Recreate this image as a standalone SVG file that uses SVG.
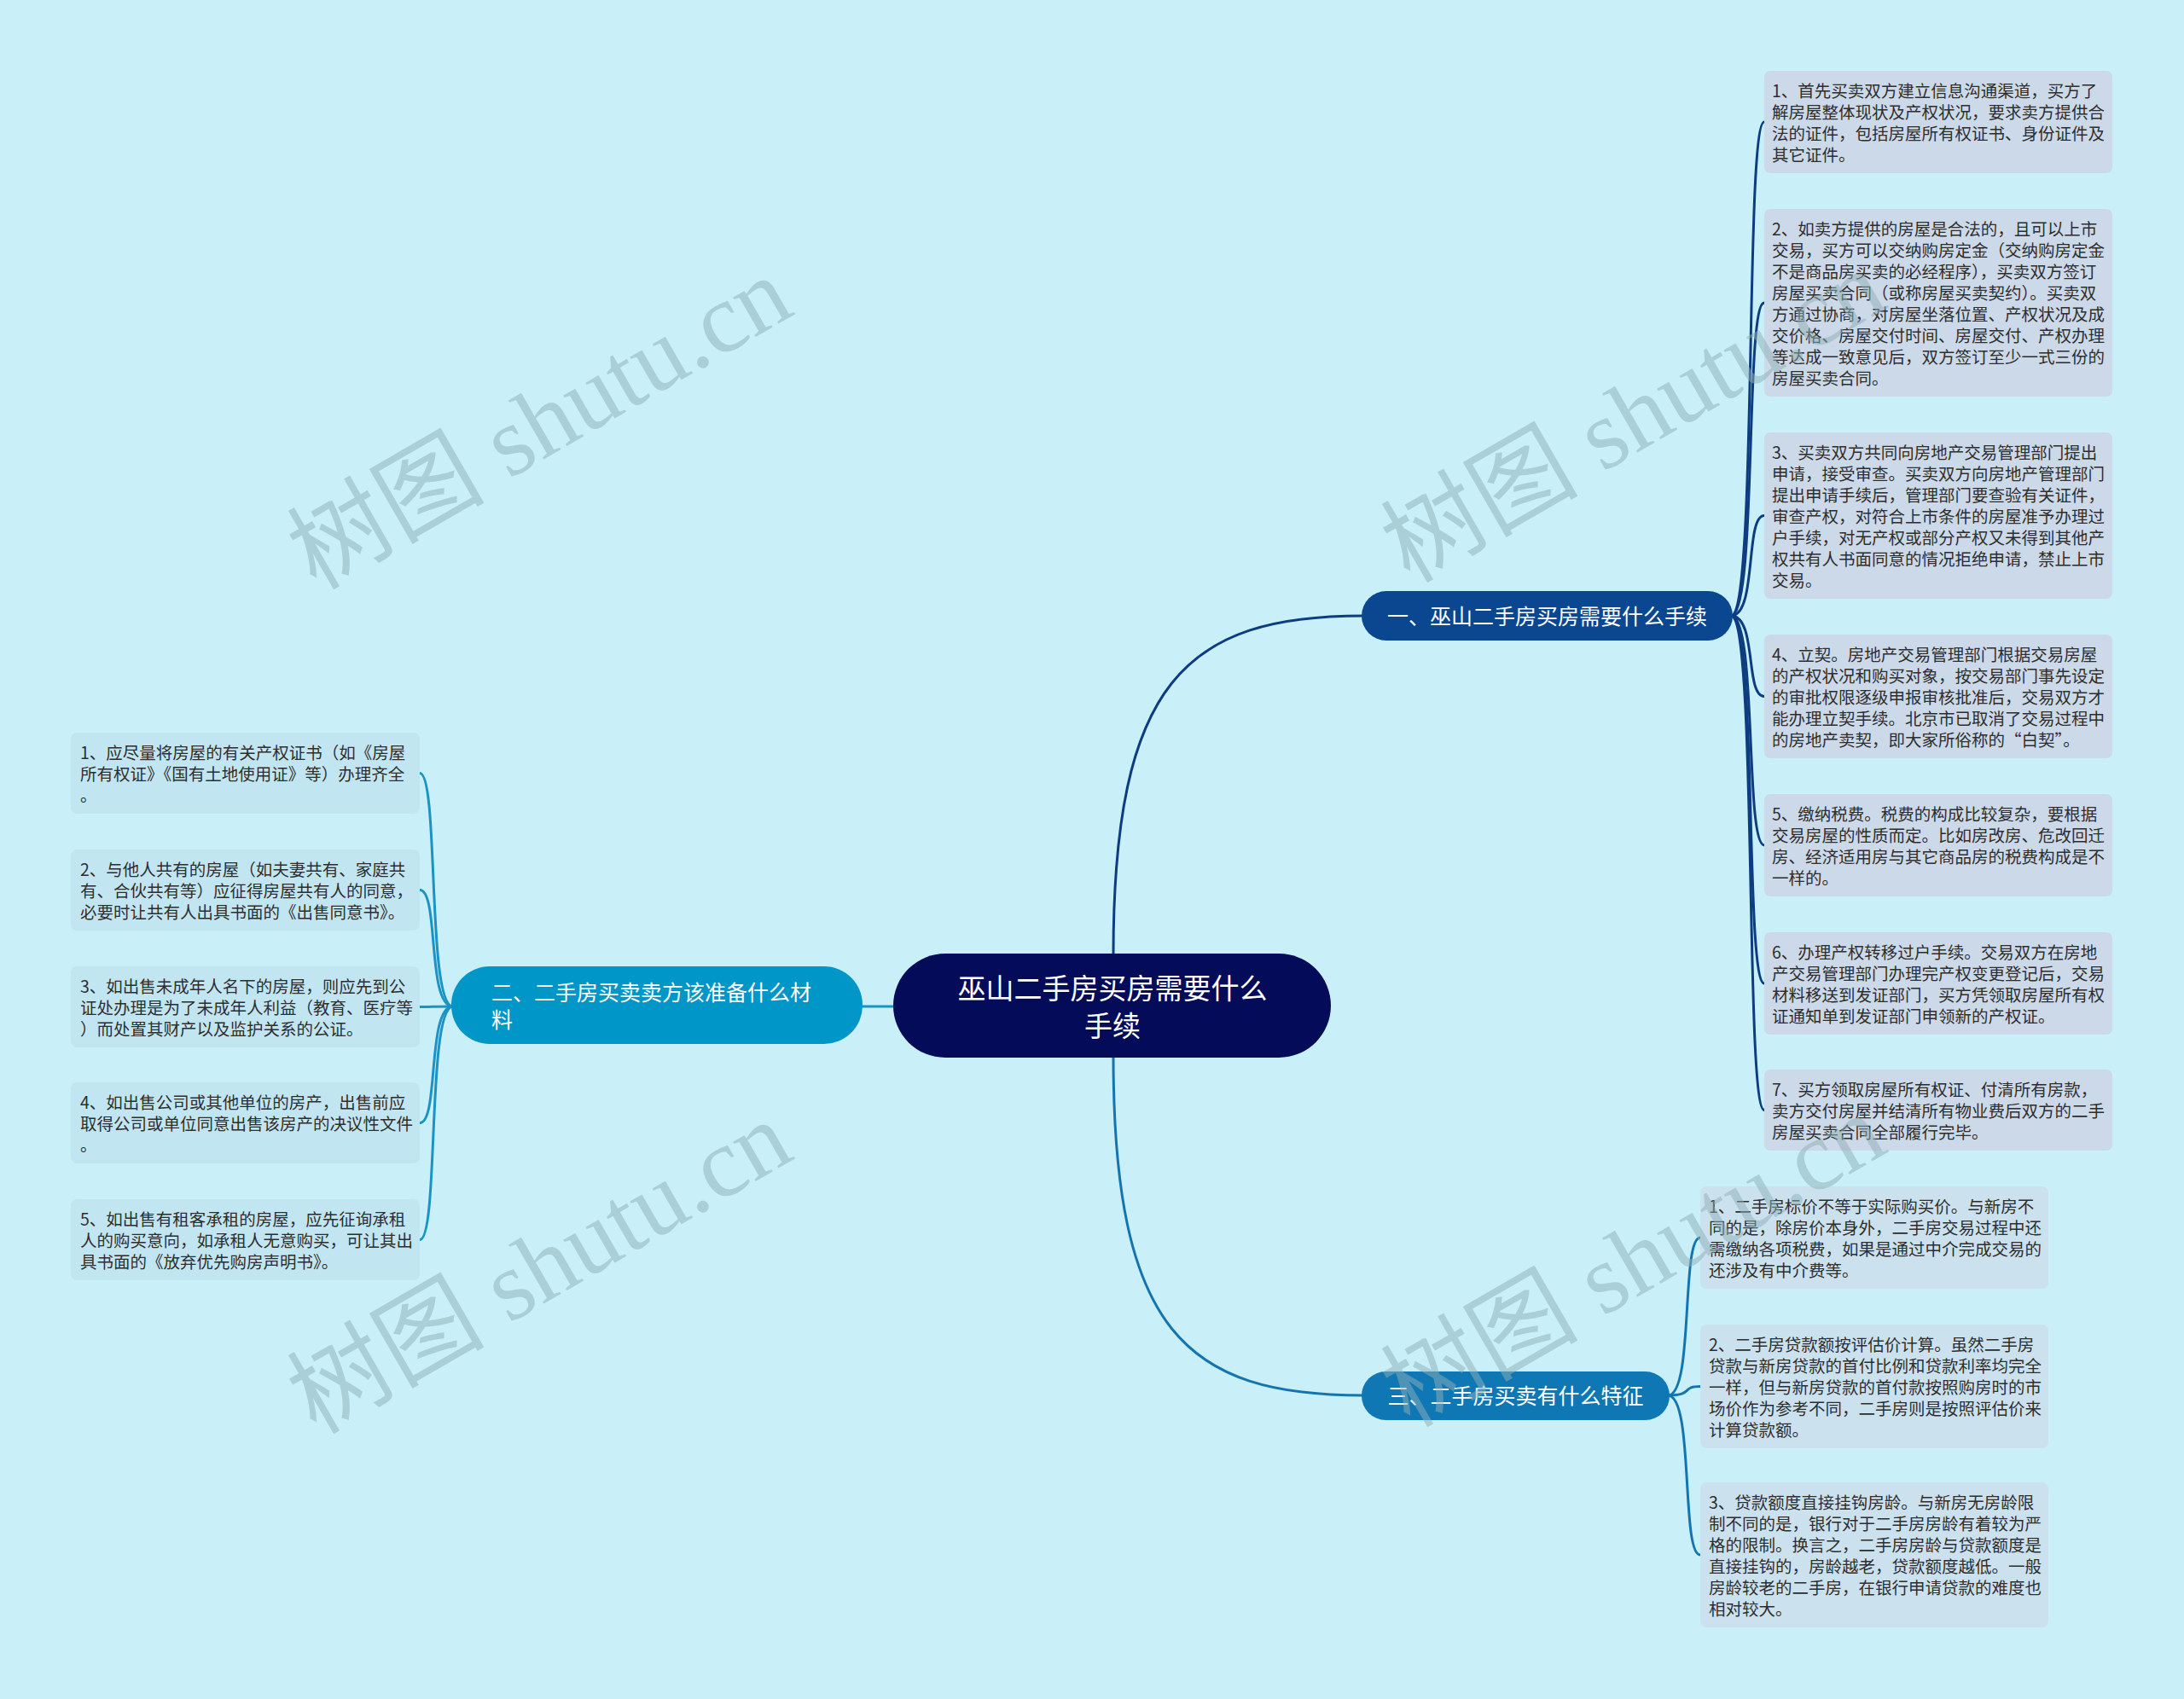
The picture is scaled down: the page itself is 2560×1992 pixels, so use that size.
<svg xmlns="http://www.w3.org/2000/svg" width="2560" height="1992" viewBox="0 0 2560 1992">
<style>
.bg{fill:#c9f0f8}
.t{font-family:"Noto Sans CJK SC","Noto Sans",sans-serif;font-size:19.5px;fill:#2e2e2e}
.bt{font-family:"Noto Sans CJK SC","Noto Sans",sans-serif;font-size:25px;fill:#ffffff}
.ct{font-family:"Noto Sans CJK SC","Noto Sans",sans-serif;font-size:33px;fill:#ffffff}
.b1c{fill:#ccd9e8}
.b2c{fill:#c2e6f1}
.b3c{fill:#cbe2ee}
.l1{fill:none;stroke:#0d3d80;stroke-width:3}
.l2{fill:none;stroke:#1b93c4;stroke-width:3}
.l3{fill:none;stroke:#1474b0;stroke-width:3}
.wm{font-family:"Liberation Serif","Noto Sans CJK SC",serif;font-size:116px;fill:#8fb0b8;opacity:0.5}
</style>
<rect class="bg" x="0" y="0" width="2560" height="1992"/>

<g id="connectors">
  <path class="l1" d="M1305,1120 C1305,800 1390,722 1598,722"/>
  <path class="l2" d="M1049,1180 L1009,1180"/>
  <path class="l3" d="M1305,1238 C1305,1560 1390,1636 1598,1636"/>
  <path class="l1" d="M2029,722 C2060,722 2045,143 2068,143"/>
  <path class="l1" d="M2029,722 C2060,722 2045,355 2068,355"/>
  <path class="l1" d="M2029,722 C2060,722 2045,604.5 2068,604.5"/>
  <path class="l1" d="M2029,722 C2060,722 2045,816.5 2068,816.5"/>
  <path class="l1" d="M2029,722 C2060,722 2045,991 2068,991"/>
  <path class="l1" d="M2029,722 C2060,722 2045,1153 2068,1153"/>
  <path class="l1" d="M2029,722 C2060,722 2045,1301.5 2068,1301.5"/>
  <path class="l3" d="M1955,1636 C1986,1636 1970,1451 1993,1451"/>
  <path class="l3" d="M1955,1636 C1986,1636 1970,1625.5 1993,1625.5"/>
  <path class="l3" d="M1955,1636 C1986,1636 1970,1823 1993,1823"/>
  <path class="l2" d="M531,1180 C500,1180 515,906.5 492,906.5"/>
  <path class="l2" d="M531,1180 C500,1180 515,1043.5 492,1043.5"/>
  <path class="l2" d="M531,1180 C500,1180 515,1180.5 492,1180.5"/>
  <path class="l2" d="M531,1180 C500,1180 515,1316.5 492,1316.5"/>
  <path class="l2" d="M531,1180 C500,1180 515,1453.5 492,1453.5"/>
</g>

<g id="center">
  <rect x="1047" y="1118" width="513" height="122" rx="61" fill="#040c5a"/>
  <text class="ct" text-anchor="middle"><tspan x="1304" y="1171">巫山二手房买房需要什么</tspan><tspan x="1304" y="1215">手续</tspan></text>
</g>

<g id="branch1">
  <rect x="1596" y="693" width="435" height="58" rx="29" fill="#0b4690"/>
  <text class="bt" x="1813.5" y="732" text-anchor="middle">一、巫山二手房买房需要什么手续</text>
</g>
<g id="branch2">
  <rect x="529" y="1133" width="482" height="91" rx="45" fill="#0196c8"/>
  <text class="bt"><tspan x="576" y="1173">二、二手房买卖卖方该准备什么材</tspan><tspan x="576" y="1205">料</tspan></text>
</g>
<g id="branch3">
  <rect x="1596" y="1608" width="361" height="57" rx="28.5" fill="#0f77b4"/>
  <text class="bt" x="1776.5" y="1646" text-anchor="middle">三、二手房买卖有什么特征</text>
</g>

<g id="b1n1">
  <rect class="b1c" x="2068" y="83" width="408" height="120" rx="7"/>
  <text class="t"><tspan x="2077" y="114">1、首先买卖双方建立信息沟通渠道，买方了</tspan><tspan x="2077" y="139">解房屋整体现状及产权状况，要求卖方提供合</tspan><tspan x="2077" y="164">法的证件，包括房屋所有权证书、身份证件及</tspan><tspan x="2077" y="189">其它证件。</tspan></text>
</g>
<g id="b1n2">
  <rect class="b1c" x="2068" y="245" width="408" height="220" rx="7"/>
  <text class="t"><tspan x="2077" y="276">2、如卖方提供的房屋是合法的，且可以上市</tspan><tspan x="2077" y="301">交易，买方可以交纳购房定金（交纳购房定金</tspan><tspan x="2077" y="326">不是商品房买卖的必经程序），买卖双方签订</tspan><tspan x="2077" y="351">房屋买卖合同（或称房屋买卖契约）。买卖双</tspan><tspan x="2077" y="376">方通过协商，对房屋坐落位置、产权状况及成</tspan><tspan x="2077" y="401">交价格、房屋交付时间、房屋交付、产权办理</tspan><tspan x="2077" y="426">等达成一致意见后，双方签订至少一式三份的</tspan><tspan x="2077" y="451">房屋买卖合同。</tspan></text>
</g>
<g id="b1n3">
  <rect class="b1c" x="2068" y="507" width="408" height="195" rx="7"/>
  <text class="t"><tspan x="2077" y="538">3、买卖双方共同向房地产交易管理部门提出</tspan><tspan x="2077" y="563">申请，接受审查。买卖双方向房地产管理部门</tspan><tspan x="2077" y="588">提出申请手续后，管理部门要查验有关证件，</tspan><tspan x="2077" y="613">审查产权，对符合上市条件的房屋准予办理过</tspan><tspan x="2077" y="638">户手续，对无产权或部分产权又未得到其他产</tspan><tspan x="2077" y="663">权共有人书面同意的情况拒绝申请，禁止上市</tspan><tspan x="2077" y="688">交易。</tspan></text>
</g>
<g id="b1n4">
  <rect class="b1c" x="2068" y="744" width="408" height="145" rx="7"/>
  <text class="t"><tspan x="2077" y="775">4、立契。房地产交易管理部门根据交易房屋</tspan><tspan x="2077" y="800">的产权状况和购买对象，按交易部门事先设定</tspan><tspan x="2077" y="825">的审批权限逐级申报审核批准后，交易双方才</tspan><tspan x="2077" y="850">能办理立契手续。北京市已取消了交易过程中</tspan><tspan x="2077" y="875">的房地产卖契，即大家所俗称的“白契”。</tspan></text>
</g>
<g id="b1n5">
  <rect class="b1c" x="2068" y="931" width="408" height="120" rx="7"/>
  <text class="t"><tspan x="2077" y="962">5、缴纳税费。税费的构成比较复杂，要根据</tspan><tspan x="2077" y="987">交易房屋的性质而定。比如房改房、危改回迁</tspan><tspan x="2077" y="1012">房、经济适用房与其它商品房的税费构成是不</tspan><tspan x="2077" y="1037">一样的。</tspan></text>
</g>
<g id="b1n6">
  <rect class="b1c" x="2068" y="1093" width="408" height="120" rx="7"/>
  <text class="t"><tspan x="2077" y="1124">6、办理产权转移过户手续。交易双方在房地</tspan><tspan x="2077" y="1149">产交易管理部门办理完产权变更登记后，交易</tspan><tspan x="2077" y="1174">材料移送到发证部门，买方凭领取房屋所有权</tspan><tspan x="2077" y="1199">证通知单到发证部门申领新的产权证。</tspan></text>
</g>
<g id="b1n7">
  <rect class="b1c" x="2068" y="1254" width="408" height="95" rx="7"/>
  <text class="t"><tspan x="2077" y="1285">7、买方领取房屋所有权证、付清所有房款，</tspan><tspan x="2077" y="1310">卖方交付房屋并结清所有物业费后双方的二手</tspan><tspan x="2077" y="1335">房屋买卖合同全部履行完毕。</tspan></text>
</g>

<g id="b3n1">
  <rect class="b3c" x="1993" y="1391" width="408" height="120" rx="7"/>
  <text class="t"><tspan x="2003" y="1422">1、二手房标价不等于实际购买价。与新房不</tspan><tspan x="2003" y="1447">同的是，除房价本身外，二手房交易过程中还</tspan><tspan x="2003" y="1472">需缴纳各项税费，如果是通过中介完成交易的</tspan><tspan x="2003" y="1497">还涉及有中介费等。</tspan></text>
</g>
<g id="b3n2">
  <rect class="b3c" x="1993" y="1553" width="408" height="145" rx="7"/>
  <text class="t"><tspan x="2003" y="1584">2、二手房贷款额按评估价计算。虽然二手房</tspan><tspan x="2003" y="1609">贷款与新房贷款的首付比例和贷款利率均完全</tspan><tspan x="2003" y="1634">一样，但与新房贷款的首付款按照购房时的市</tspan><tspan x="2003" y="1659">场价作为参考不同，二手房则是按照评估价来</tspan><tspan x="2003" y="1684">计算贷款额。</tspan></text>
</g>
<g id="b3n3">
  <rect class="b3c" x="1993" y="1738" width="408" height="170" rx="7"/>
  <text class="t"><tspan x="2003" y="1769">3、贷款额度直接挂钩房龄。与新房无房龄限</tspan><tspan x="2003" y="1794">制不同的是，银行对于二手房房龄有着较为严</tspan><tspan x="2003" y="1819">格的限制。换言之，二手房房龄与贷款额度是</tspan><tspan x="2003" y="1844">直接挂钩的，房龄越老，贷款额度越低。一般</tspan><tspan x="2003" y="1869">房龄较老的二手房，在银行申请贷款的难度也</tspan><tspan x="2003" y="1894">相对较大。</tspan></text>
</g>

<g id="b2n1">
  <rect class="b2c" x="83" y="859" width="409" height="95" rx="7"/>
  <text class="t"><tspan x="94" y="890">1、应尽量将房屋的有关产权证书（如《房屋</tspan><tspan x="94" y="915">所有权证》《国有土地使用证》等）办理齐全</tspan><tspan x="94" y="940">。</tspan></text>
</g>
<g id="b2n2">
  <rect class="b2c" x="83" y="996" width="409" height="95" rx="7"/>
  <text class="t"><tspan x="94" y="1027">2、与他人共有的房屋（如夫妻共有、家庭共</tspan><tspan x="94" y="1052">有、合伙共有等）应征得房屋共有人的同意，</tspan><tspan x="94" y="1077">必要时让共有人出具书面的《出售同意书》。</tspan></text>
</g>
<g id="b2n3">
  <rect class="b2c" x="83" y="1133" width="409" height="95" rx="7"/>
  <text class="t"><tspan x="94" y="1164">3、如出售未成年人名下的房屋，则应先到公</tspan><tspan x="94" y="1189">证处办理是为了未成年人利益（教育、医疗等</tspan><tspan x="94" y="1214">）而处置其财产以及监护关系的公证。</tspan></text>
</g>
<g id="b2n4">
  <rect class="b2c" x="83" y="1269" width="409" height="95" rx="7"/>
  <text class="t"><tspan x="94" y="1300">4、如出售公司或其他单位的房产，出售前应</tspan><tspan x="94" y="1325">取得公司或单位同意出售该房产的决议性文件</tspan><tspan x="94" y="1350">。</tspan></text>
</g>
<g id="b2n5">
  <rect class="b2c" x="83" y="1406" width="409" height="95" rx="7"/>
  <text class="t"><tspan x="94" y="1437">5、如出售有租客承租的房屋，应先征询承租</tspan><tspan x="94" y="1462">人的购买意向，如承租人无意购买，可让其出</tspan><tspan x="94" y="1487">具书面的《放弃优先购房声明书》。</tspan></text>
</g>

<g id="watermarks">
  <text class="wm" x="652" y="530" text-anchor="middle" transform="rotate(-30 652 530)">树图 shutu.cn</text>
  <text class="wm" x="1934" y="522" text-anchor="middle" transform="rotate(-30 1934 522)">树图 shutu.cn</text>
  <text class="wm" x="652" y="1520" text-anchor="middle" transform="rotate(-30 652 1520)">树图 shutu.cn</text>
  <text class="wm" x="1934" y="1512" text-anchor="middle" transform="rotate(-30 1934 1512)">树图 shutu.cn</text>
</g>
</svg>
